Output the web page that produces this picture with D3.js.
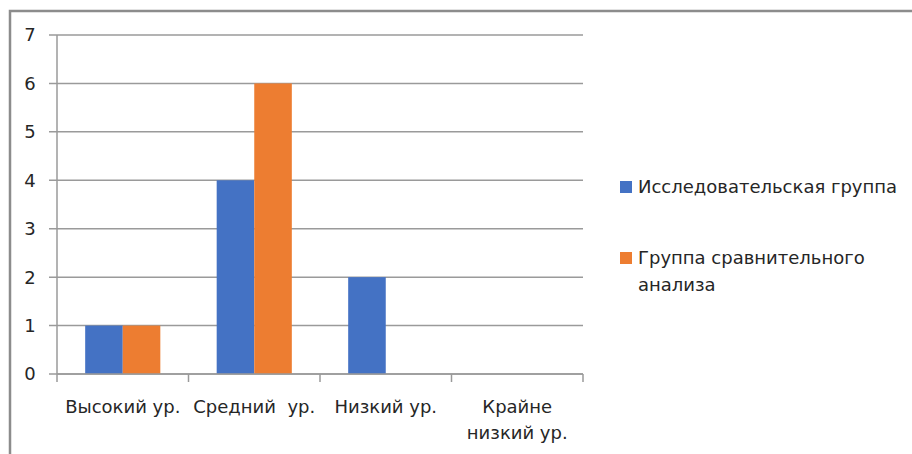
<!DOCTYPE html>
<html>
<head>
<meta charset="utf-8">
<script src="https://cdn.jsdelivr.net/npm/d3@7"></script>
<style>
  body { margin: 0; background: #fff; }
  svg { display: block; font-family: "DejaVu Sans", "Open Sans", sans-serif; }
</style>
</head>
<body>
<div id="chart"></div>
<script>
// data
const categories = [['Высокий ур.'], ['Средний  ур.'], ['Низкий ур.'], ['Крайне', 'низкий ур.']];
const seriesNames = ['Исследовательская группа', 'Группа сравнительного|анализа'];
const researchGroup = [1, 4, 2, 0];
const comparisonGroup = [1, 6, 0, 0];
const yTicks = [0, 1, 2, 3, 4, 5, 6, 7];
const colors = ['#4472c4', '#ed7d31'];

const W = 912, H = 454;
const plot = { left: 57, right: 583, top: 35, bottom: 374 };
const fontSize = '18px';

const svg = d3.select('#chart').append('svg')
    .attr('width', W)
    .attr('height', H);

// outer frame (runs off the right and bottom edge in the reference)
svg.append('path')
    .attr('d', `M10,${H + 5} L10,11 L${W + 5},11`)
    .attr('fill', 'none')
    .attr('stroke', '#8c8c8c')
    .attr('stroke-width', 2.5);

const x0 = d3.scaleBand()
    .domain(d3.range(categories.length))
    .range([plot.left, plot.right]);

// Excel-like gap width of 150%
const barW = x0.bandwidth() / (2 + 1.5);
const x1 = d3.scaleBand()
    .domain([0, 1])
    .range([0, barW * 2]);

const y = d3.scaleLinear()
    .domain([0, 7])
    .range([plot.bottom, plot.top]);

// gridlines + y tick marks
svg.append('g')
    .selectAll('line')
    .data(yTicks)
    .join('line')
    .attr('x1', plot.left - 8)
    .attr('x2', plot.right)
    .attr('y1', d => y(d))
    .attr('y2', d => y(d))
    .attr('stroke', '#9a9a9a')
    .attr('stroke-width', 1.5);

// y labels
svg.append('g')
    .selectAll('text')
    .data(yTicks)
    .join('text')
    .attr('x', 30)
    .attr('y', d => y(d))
    .attr('dy', '0.36em')
    .attr('text-anchor', 'middle')
    .style('font-size', fontSize)
    .style('fill', '#262626')
    .text(d => d);

// value axis line
svg.append('line')
    .attr('x1', plot.left).attr('x2', plot.left)
    .attr('y1', plot.top).attr('y2', plot.bottom)
    .attr('stroke', '#9a9a9a')
    .attr('stroke-width', 1.5);

// bars
const series = [researchGroup, comparisonGroup];
series.forEach((vals, si) => {
    svg.append('g')
        .selectAll('rect')
        .data(vals)
        .join('rect')
        .attr('x', (d, i) => x0(i) + barW * 0.75 + x1(si))
        .attr('y', d => y(d))
        .attr('width', x1.bandwidth())
        .attr('height', d => y(0) - y(d))
        .attr('fill', colors[si]);
});

// category axis with tick marks between categories
const xAxis = svg.append('g');
xAxis.append('line')
    .attr('x1', plot.left).attr('x2', plot.right)
    .attr('y1', plot.bottom).attr('y2', plot.bottom)
    .attr('stroke', '#9a9a9a')
    .attr('stroke-width', 1.5);
xAxis.selectAll('line.tick')
    .data(d3.range(categories.length + 1))
    .join('line')
    .attr('class', 'tick')
    .attr('x1', i => i < categories.length ? x0(i) : plot.right)
    .attr('x2', i => i < categories.length ? x0(i) : plot.right)
    .attr('y1', plot.bottom)
    .attr('y2', plot.bottom + 8)
    .attr('stroke', '#9a9a9a')
    .attr('stroke-width', 1.5);

const catLabels = xAxis.selectAll('text.cat')
    .data(categories)
    .join('text')
    .attr('class', 'cat')
    .attr('text-anchor', 'middle')
    .style('font-size', fontSize)
    .style('fill', '#262626')
    .style('white-space', 'pre')
    .attr('transform', (d, i) => `translate(${x0(i) + x0.bandwidth() / 2},${plot.bottom + 39})`);
catLabels.selectAll('tspan')
    .data(d => d)
    .join('tspan')
    .attr('x', 0)
    .attr('dy', (d, i) => i === 0 ? 0 : 26)
    .text(d => d);

// legend
const legend = svg.append('g');
const legendY = [187, 258];
seriesNames.forEach((name, i) => {
    legend.append('rect')
        .attr('x', 620)
        .attr('y', legendY[i] - 6)
        .attr('width', 12)
        .attr('height', 12)
        .attr('fill', colors[i]);
    const t = legend.append('text')
        .attr('x', 638)
        .attr('y', legendY[i])
        .style('font-size', fontSize)
        .style('fill', '#262626');
    name.split('|').forEach((line, j) => {
        t.append('tspan')
            .attr('x', 638)
            .attr('dy', j === 0 ? '0.36em' : 27)
            .text(line);
    });
});
</script>
</body>
</html>
